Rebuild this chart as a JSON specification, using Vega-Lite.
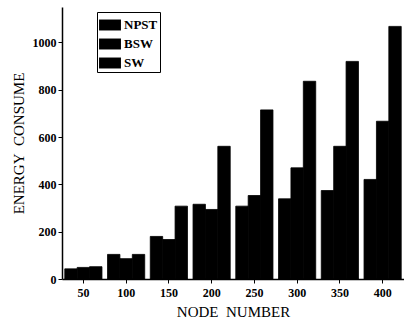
{
  "$schema": "https://vega.github.io/schema/vega-lite/v6.json",
  "width": 342,
  "height": 272,
  "autosize": "none",
  "padding": {"left": 62, "top": 7, "right": 0, "bottom": 43},
  "background": "white",
  "config": {
    "view": {"stroke": null},
    "font": "Liberation Serif"
  },
  "data": {
    "values": [
      {"node": 50, "method": "NPST", "energy": 43},
      {"node": 50, "method": "BSW", "energy": 49},
      {"node": 50, "method": "SW", "energy": 52},
      {"node": 100, "method": "NPST", "energy": 104},
      {"node": 100, "method": "BSW", "energy": 86},
      {"node": 100, "method": "SW", "energy": 104},
      {"node": 150, "method": "NPST", "energy": 180},
      {"node": 150, "method": "BSW", "energy": 167},
      {"node": 150, "method": "SW", "energy": 308},
      {"node": 200, "method": "NPST", "energy": 316},
      {"node": 200, "method": "BSW", "energy": 294},
      {"node": 200, "method": "SW", "energy": 561},
      {"node": 250, "method": "NPST", "energy": 308},
      {"node": 250, "method": "BSW", "energy": 353},
      {"node": 250, "method": "SW", "energy": 715},
      {"node": 300, "method": "NPST", "energy": 339},
      {"node": 300, "method": "BSW", "energy": 470},
      {"node": 300, "method": "SW", "energy": 836},
      {"node": 350, "method": "NPST", "energy": 374},
      {"node": 350, "method": "BSW", "energy": 561},
      {"node": 350, "method": "SW", "energy": 920},
      {"node": 400, "method": "NPST", "energy": 421},
      {"node": 400, "method": "BSW", "energy": 667},
      {"node": 400, "method": "SW", "energy": 1068}
    ]
  },
  "mark": {"type": "bar", "color": "black", "stroke": "black", "strokeWidth": 0.8},
  "encoding": {
    "x": {
      "field": "node",
      "type": "ordinal",
      "scale": {"paddingInner": 0.13, "paddingOuter": 0.065},
      "axis": {
        "title": "NODE\u00a0\u00a0NUMBER",
        "titleFont": "Liberation Serif",
        "titleFontSize": 15,
        "titleFontWeight": "normal",
        "titleColor": "black",
        "titlePadding": 6,
        "labelAngle": 0,
        "labelFont": "Liberation Serif",
        "labelFontWeight": "bold",
        "labelFontSize": 12,
        "labelColor": "black",
        "labelPadding": 4,
        "domainColor": "black",
        "domainWidth": 1.5,
        "tickColor": "black",
        "tickSize": 4,
        "tickWidth": 1
      }
    },
    "xOffset": {
      "field": "method",
      "type": "nominal",
      "sort": ["NPST", "BSW", "SW"],
      "scale": {"paddingInner": 0, "paddingOuter": 0}
    },
    "y": {
      "field": "energy",
      "type": "quantitative",
      "scale": {"domain": [0, 1150], "nice": false},
      "axis": {
        "title": "ENERGY\u00a0\u00a0CONSUME",
        "titleFont": "Liberation Serif",
        "titleFontSize": 15,
        "titleFontWeight": "normal",
        "titleColor": "black",
        "titlePadding": 6,
        "values": [0, 200, 400, 600, 800, 1000],
        "format": "d",
        "grid": false,
        "labelFont": "Liberation Serif",
        "labelFontWeight": "bold",
        "labelFontSize": 12,
        "labelColor": "black",
        "labelPadding": 2,
        "domainColor": "black",
        "domainWidth": 1.5,
        "tickColor": "black",
        "tickSize": 4
      }
    },
    "color": {
      "field": "method",
      "type": "nominal",
      "sort": ["NPST", "BSW", "SW"],
      "scale": {"domain": ["NPST", "BSW", "SW"], "range": ["black", "black", "black"]},
      "legend": {
        "title": null,
        "orient": "none",
        "legendX": 35,
        "legendY": 5,
        "symbolType": "M-1,-0.5H1V0.5H-1Z",
        "symbolSize": 480,
        "symbolStrokeWidth": 0,
        "labelFont": "Liberation Serif",
        "labelFontWeight": "bold",
        "labelFontSize": 13,
        "labelColor": "black",
        "rowPadding": 1,
        "padding": 2,
        "strokeColor": "black",
        "fillColor": "white",
        "labelOffset": 3
      }
    }
  }
}
